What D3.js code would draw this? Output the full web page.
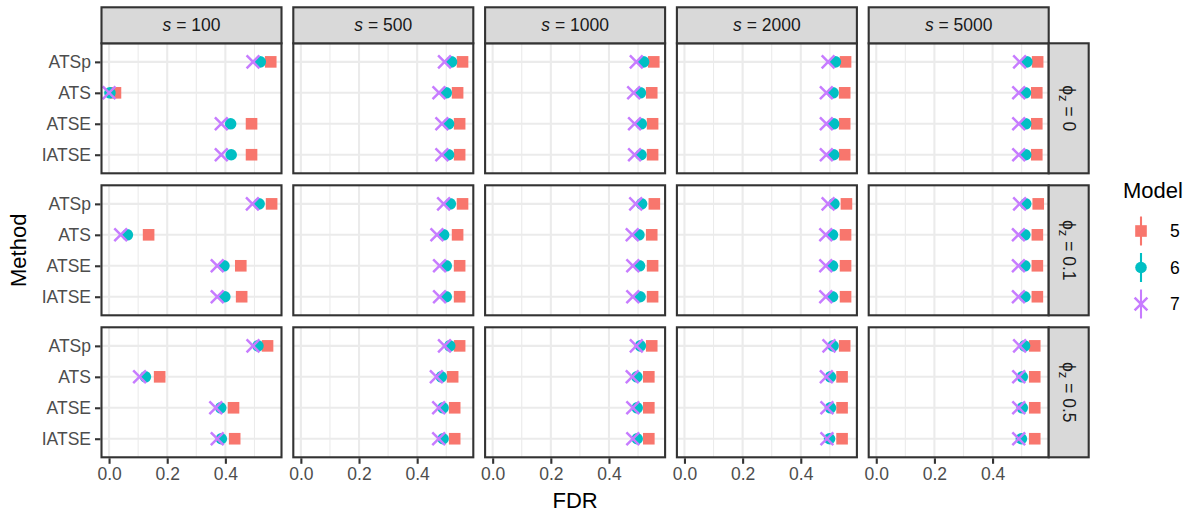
<!DOCTYPE html>
<html>
<head>
<meta charset="utf-8">
<script src="https://cdn.jsdelivr.net/npm/d3@7"></script>
<style>
  html, body { margin: 0; padding: 0; background: #fff; }
  svg { display: block; font-family: "Liberation Sans", Arial, sans-serif; }
</style>
</head>
<body>
<svg id="chart" width="1194" height="515"></svg>
<script>
// Facet levels
const sizes = [100, 500, 1000, 2000, 5000];
const phis = ["0", "0.1", "0.5"];
const methods = ["ATSp", "ATS", "ATSE", "IATSE"];
const models = ["5", "6", "7"];
const xTicks = [0, 0.2, 0.4];
const xMinor = [0.1, 0.3, 0.5];

// FDR per model: [phi][s][method], methods in order ATSp, ATS, ATSE, IATSE
const fdrModel5 = [
  [[0.556, 0.022, 0.490, 0.490], [0.556, 0.539, 0.546, 0.546], [0.554, 0.547, 0.550, 0.550], [0.554, 0.551, 0.551, 0.551], [0.555, 0.552, 0.552, 0.552]],
  [[0.559, 0.136, 0.453, 0.456], [0.556, 0.539, 0.546, 0.546], [0.556, 0.547, 0.550, 0.550], [0.557, 0.554, 0.554, 0.554], [0.557, 0.554, 0.554, 0.554]],
  [[0.545, 0.174, 0.428, 0.432], [0.546, 0.522, 0.529, 0.529], [0.547, 0.537, 0.537, 0.537], [0.551, 0.542, 0.542, 0.542], [0.545, 0.545, 0.545, 0.545]]
];
const fdrModel6 = [
  [[0.520, 0.003, 0.418, 0.420], [0.518, 0.500, 0.508, 0.508], [0.519, 0.508, 0.511, 0.510], [0.519, 0.511, 0.513, 0.513], [0.518, 0.513, 0.514, 0.514]],
  [[0.516, 0.063, 0.395, 0.398], [0.514, 0.491, 0.500, 0.500], [0.512, 0.503, 0.505, 0.507], [0.514, 0.509, 0.509, 0.509], [0.514, 0.511, 0.511, 0.511]],
  [[0.512, 0.125, 0.384, 0.386], [0.512, 0.483, 0.489, 0.489], [0.508, 0.496, 0.497, 0.497], [0.511, 0.502, 0.502, 0.499], [0.510, 0.502, 0.502, 0.499]]
];
const fdrModel7 = [
  [[0.495, 0.000, 0.386, 0.386], [0.494, 0.475, 0.485, 0.485], [0.494, 0.485, 0.488, 0.488], [0.494, 0.488, 0.488, 0.488], [0.493, 0.490, 0.490, 0.490]],
  [[0.493, 0.040, 0.372, 0.372], [0.491, 0.468, 0.477, 0.477], [0.492, 0.480, 0.482, 0.482], [0.494, 0.486, 0.486, 0.486], [0.493, 0.489, 0.489, 0.489]],
  [[0.495, 0.105, 0.367, 0.372], [0.494, 0.466, 0.474, 0.474], [0.494, 0.480, 0.482, 0.482], [0.497, 0.488, 0.490, 0.490], [0.493, 0.490, 0.490, 0.490]]
];

const modelColors = { "5": "#F8766D", "6": "#00BFC4", "7": "#C77CFF" };
const modelValues = { "5": fdrModel5, "6": fdrModel6, "7": fdrModel7 };

// Layout
const panelLeft = 101.5, colPitch = 191.8, panelW = 180;
const panelTop = 43.3, rowPitch = 142, panelH = 130;
const stripTopY = 7.3, stripTopH = panelTop - stripTopY;
const stripRightW = 40;
const borderCol = "#333333", gridCol = "#EBEBEB", stripFill = "#D9D9D9";
const tickFont = 17.5, titleFont = 22;

const svg = d3.select("#chart");

const x = d3.scaleLinear().domain([-0.026, 0.593]).range([0, panelW]);
const y = d3.scalePoint().domain(methods).range([0, panelH]).padding(0.6);

// Marker shapes
function drawMarker(g, model, cx, cy) {
  const col = modelColors[model];
  if (model === "5") {
    const s = 11.6;
    g.append("rect").attr("x", cx - s / 2).attr("y", cy - s / 2)
      .attr("width", s).attr("height", s).attr("fill", col);
  } else if (model === "6") {
    g.append("circle").attr("cx", cx).attr("cy", cy).attr("r", 5.8).attr("fill", col);
  } else {
    const h = 6.4;
    g.append("path")
      .attr("d", `M${cx - h},${cy - h}L${cx + h},${cy + h}M${cx - h},${cy + h}L${cx + h},${cy - h}`)
      .attr("stroke", col).attr("stroke-width", 2.5).attr("fill", "none");
  }
}

phis.forEach((phi, r) => {
  sizes.forEach((s, c) => {
    const px = panelLeft + c * colPitch;
    const py = panelTop + r * rowPitch;
    const g = svg.append("g").attr("transform", `translate(${px},${py})`);

    g.append("rect").attr("width", panelW).attr("height", panelH).attr("fill", "#fff");

    // grid
    g.selectAll(".minor").data(xMinor).enter().append("line")
      .attr("x1", d => x(d)).attr("x2", d => x(d)).attr("y1", 0).attr("y2", panelH)
      .attr("stroke", gridCol).attr("stroke-width", 1.1);
    g.selectAll(".majorx").data(xTicks).enter().append("line")
      .attr("x1", d => x(d)).attr("x2", d => x(d)).attr("y1", 0).attr("y2", panelH)
      .attr("stroke", gridCol).attr("stroke-width", 2.1);
    g.selectAll(".majory").data(methods).enter().append("line")
      .attr("y1", d => y(d)).attr("y2", d => y(d)).attr("x1", 0).attr("x2", panelW)
      .attr("stroke", gridCol).attr("stroke-width", 2.1);

    // points, drawn model by model so later models sit on top
    models.forEach(m => {
      const vals = modelValues[m][r][c];
      methods.forEach((meth, k) => drawMarker(g, m, x(vals[k]), y(meth)));
    });

    g.append("rect").attr("width", panelW).attr("height", panelH)
      .attr("fill", "none").attr("stroke", borderCol).attr("stroke-width", 2.1);

    // column strip
    if (r === 0) {
      const sg = svg.append("g").attr("transform", `translate(${px},${stripTopY})`);
      sg.append("rect").attr("width", panelW).attr("height", stripTopH)
        .attr("fill", stripFill).attr("stroke", borderCol).attr("stroke-width", 2.1);
      const t = sg.append("text").attr("x", panelW / 2).attr("y", stripTopH / 2 + 6.2)
        .attr("text-anchor", "middle").attr("font-size", tickFont).attr("fill", "#1A1A1A");
      t.append("tspan").attr("font-style", "italic").text("s");
      t.append("tspan").text(" = " + s);
    }

    // row strip
    if (c === sizes.length - 1) {
      const sg = svg.append("g").attr("transform", `translate(${px + panelW},${py})`);
      sg.append("rect").attr("width", stripRightW).attr("height", panelH)
        .attr("fill", stripFill).attr("stroke", borderCol).attr("stroke-width", 2.1);
      const t = sg.append("text")
        .attr("transform", `translate(${stripRightW / 2 - 6},${panelH / 2}) rotate(90)`)
        .attr("text-anchor", "middle").attr("font-size", tickFont).attr("fill", "#1A1A1A");
      t.append("tspan").text("ϕ");
      t.append("tspan").attr("font-size", 13).attr("dy", 3.5).text("z");
      t.append("tspan").attr("dy", -3.5).text(" = " + phi);
    }

    // x axis on bottom row
    if (r === phis.length - 1) {
      const ax = svg.append("g").attr("transform", `translate(${px},${py + panelH + 1})`)
        .call(d3.axisBottom(x).tickValues(xTicks).tickFormat(d3.format(".1f")).tickSize(5.5).tickPadding(4));
      ax.select(".domain").remove();
      ax.selectAll(".tick line").attr("stroke", borderCol).attr("stroke-width", 2.1);
      ax.selectAll(".tick text").attr("font-size", tickFont).attr("fill", "#4D4D4D")
        .attr("font-family", "Liberation Sans, Arial, sans-serif");
    }

    // y axis on first column
    if (c === 0) {
      const ay = svg.append("g").attr("transform", `translate(${px - 1},${py})`)
        .call(d3.axisLeft(y).tickSize(5.5).tickPadding(4));
      ay.select(".domain").remove();
      ay.selectAll(".tick line").attr("stroke", borderCol).attr("stroke-width", 2.1);
      ay.selectAll(".tick text").attr("font-size", tickFont).attr("fill", "#4D4D4D")
        .attr("font-family", "Liberation Sans, Arial, sans-serif");
    }
  });
});

// axis titles
const plotMidX = panelLeft + ((sizes.length - 1) * colPitch + panelW) / 2;
const plotMidY = panelTop + ((phis.length - 1) * rowPitch + panelH) / 2;
svg.append("text").attr("x", plotMidX).attr("y", 508).attr("text-anchor", "middle")
  .attr("font-size", titleFont).attr("fill", "#000").text("FDR");
svg.append("text").attr("transform", `translate(26,${plotMidY}) rotate(-90)`)
  .attr("text-anchor", "middle").attr("font-size", titleFont).attr("fill", "#000").text("Method");

// legend
const lg = svg.append("g").attr("transform", "translate(1123,0)");
lg.append("text").attr("x", 0).attr("y", 198).attr("font-size", titleFont).attr("fill", "#000").text("Model");
const keyY = d3.scalePoint().domain(models).range([231, 304]);
models.forEach(m => {
  const cy = keyY(m), cx = 18;
  lg.append("line").attr("x1", cx).attr("x2", cx).attr("y1", cy - 14.5).attr("y2", cy + 14.5)
    .attr("stroke", modelColors[m]).attr("stroke-width", 2.1);
  drawMarker(lg, m, cx, cy);
  lg.append("text").attr("x", 47).attr("y", cy + 6.3).attr("font-size", tickFont)
    .attr("fill", "#000").text(m);
});
</script>
</body>
</html>
